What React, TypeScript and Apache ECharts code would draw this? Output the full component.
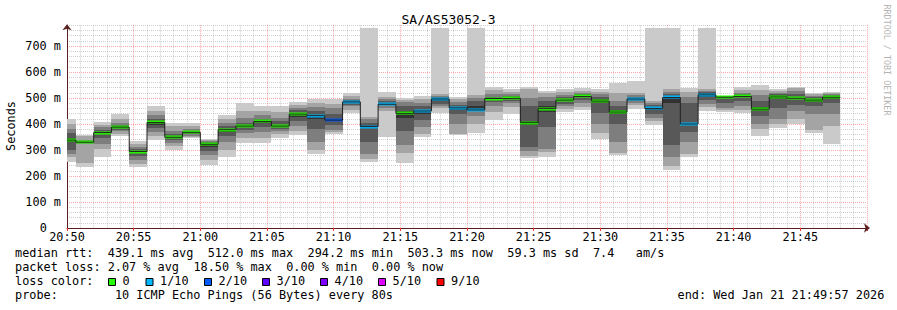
import React, { useEffect, useRef } from 'react';
import * as echarts from 'echarts';

const FONT = '"DejaVu Sans Mono", monospace';
const FS = 11.85;
const CW = 7.135;

const title = 'SA/AS53052-3';
const yTitle = 'Seconds';
const watermark = 'RRDTOOL / TOBI OETIKER';

// time axis: seconds after 20:50:00, probe step 80 s, first step ends at +40 s
const START_MINUTE = 20 * 60 + 50;
const RANGE_SECONDS = 3600;
const STEP_SECONDS = 80;
const FIRST_STEP_END = 40;

// 10 sorted ping times (ms) per step
const pings: number[][] = [
  [252, 275, 285, 300, 330, 345, 365, 380, 400, 420],
  [236, 250, 325, 328, 329, 332, 334, 338, 352, 358],
  [272, 305, 325, 345, 360, 370, 378, 388, 398, 408],
  [352, 362, 372, 378, 384, 392, 398, 405, 418, 440],
  [233, 245, 262, 278, 290, 296, 302, 312, 325, 336],
  [340, 352, 370, 385, 398, 410, 420, 435, 450, 468],
  [300, 315, 328, 338, 345, 352, 362, 375, 392, 403],
  [345, 350, 355, 360, 364, 370, 375, 382, 392, 402],
  [243, 262, 280, 295, 310, 328, 332, 336, 339, 341],
  [274, 300, 330, 352, 368, 380, 392, 405, 420, 434],
  [328, 345, 365, 378, 388, 395, 405, 425, 450, 479],
  [328, 345, 370, 390, 405, 412, 420, 435, 450, 468],
  [345, 360, 372, 382, 388, 395, 410, 425, 445, 468],
  [358, 372, 392, 410, 428, 442, 452, 462, 475, 485],
  [285, 300, 330, 380, 420, 435, 450, 465, 480, 495],
  [362, 368, 378, 395, 410, 420, 440, 460, 478, 497],
  [442, 455, 468, 475, 480, 487, 492, 498, 508, 518],
  [252, 265, 285, 330, 385, 395, 405, 418, 428, 770],
  [351, 450, 462, 475, 478, 482, 490, 497, 505, 525],
  [251, 290, 320, 375, 425, 450, 470, 485, 492, 499],
  [351, 362, 390, 415, 440, 455, 470, 482, 495, 506],
  [444, 460, 470, 478, 488, 498, 502, 508, 515, 770],
  [357, 362, 400, 440, 455, 467, 475, 485, 495, 502],
  [367, 400, 430, 455, 458, 470, 490, 500, 510, 770],
  [415, 445, 470, 485, 492, 500, 505, 515, 530, 541],
  [438, 465, 480, 488, 495, 502, 508, 515, 525, 535],
  [268, 278, 295, 310, 398, 412, 470, 500, 535, 544],
  [274, 292, 305, 390, 445, 470, 490, 505, 518, 527],
  [447, 458, 468, 478, 487, 495, 502, 512, 525, 535],
  [454, 466, 480, 492, 502, 508, 514, 520, 528, 537],
  [342, 365, 400, 442, 480, 495, 505, 515, 525, 535],
  [281, 290, 330, 400, 440, 452, 470, 490, 520, 556],
  [458, 472, 482, 490, 494, 498, 503, 510, 520, 567],
  [396, 410, 425, 440, 455, 465, 475, 482, 490, 770],
  [223, 240, 275, 320, 480, 505, 515, 525, 535, 770],
  [274, 285, 330, 370, 395, 405, 480, 505, 525, 537],
  [451, 465, 478, 492, 505, 518, 522, 528, 535, 770],
  [448, 452, 462, 480, 499, 505, 506, 507, 508, 509],
  [444, 455, 470, 490, 503, 509, 515, 520, 530, 541],
  [354, 380, 400, 430, 450, 465, 490, 510, 530, 550],
  [386, 400, 420, 460, 495, 510, 515, 520, 527, 533],
  [400, 420, 450, 475, 495, 503, 515, 528, 537, 544],
  [364, 378, 440, 470, 485, 495, 502, 508, 515, 521],
  [323, 392, 440, 480, 495, 508, 512, 516, 520, 525],
];

const medians = [
  338, 330, 367, 388, 294, 406, 349, 368, 322, 378,
  392, 410, 392, 438, 432, 415, 485, 390, 476, 441,
  450, 496, 462, 454, 498, 499, 405, 459, 492, 506,
  488, 446, 496, 460, 502, 400, 512, 503, 506, 457,
  504, 499, 492, 503,
];

const lossTenths = [
  0, 0, 0, 0, 0, 0, 0, 0, 0, 0,
  0, 0, 0, 0, 1, 2, 1, 1, 1, 0,
  1, 1, 1, 1, 0, 0, 0, 0, 0, 0,
  0, 0, 1, 1, 1, 1, 1, 0, 0, 0,
  0, 0, 0, 0,
];

const lossLevels = [0, 1, 2, 3, 4, 5, 9];
const lossLabels = ['0', '1/10', '2/10', '3/10', '4/10', '5/10', '9/10'];
const lossColors = ['#26ff00', '#00b8ff', '#0059ff', '#5e00ff', '#7e00ff', '#dd00ff', '#ff0000'];
const smokeColors = ['#cacaca', '#a4a4a4', '#7e7e7e', '#585858', '#323232'];

const statsLine = 'median rtt:  439.1 ms avg  512.0 ms max  294.2 ms min  503.3 ms now  59.3 ms sd  7.4   am/s';
const lossLine = 'packet loss: 2.07 % avg  18.50 % max  0.00 % min  0.00 % now';
const lossColorLabel = 'loss color:';
const probeLine = 'probe:        10 ICMP Echo Pings (56 Bytes) every 80s';
const endLine = 'end: Wed Jan 21 21:49:57 2026';

const stepStart = (i: number) => (i === 0 ? 0 : FIRST_STEP_END + STEP_SECONDS * (i - 1));
const stepEnd = (i: number) => FIRST_STEP_END + STEP_SECONDS * i;

const fmtTime = (v: number) => {
  const t = START_MINUTE + Math.round(v / 60);
  const h = Math.floor(t / 60) % 24;
  const m = t % 60;
  return `${h}:${String(m).padStart(2, '0')}`;
};

const textEl = (x: number, y: number, text: string, extra: any = {}) => ({
  type: 'text',
  x,
  y,
  silent: true,
  ...extra,
  style: {
    text,
    fill: '#000',
    font: `${FS}px ${FONT}`,
    align: 'left',
    verticalAlign: 'middle',
    textAlign: 'left',
    textVerticalAlign: 'middle',
    ...(extra.style || {}),
  },
});

const monoLine = (line: string, x0: number, y: number) => {
  const out: any[] = [];
  const re = /\S+(?: \S+)*/g;
  let m: RegExpExecArray | null;
  while ((m = re.exec(line))) {
    out.push(textEl(x0 + m.index * CW, y, m[0]));
  }
  return out;
};

export default function App() {
  const ref = useRef<HTMLDivElement>(null);

  useEffect(() => {
    document.body.style.margin = '0';
    if (!ref.current) return;
    const chart = echarts.init(ref.current, undefined, { renderer: 'svg' });

    const AXIS = '#5a2020';
    const RED = 'rgba(255,60,60,0.45)';
    const GRAY = 'rgba(150,150,150,0.45)';
    const cycle = [RED, GRAY, GRAY, GRAY, GRAY];

    const smokeData = pings.map((p, i) => [stepStart(i), stepEnd(i), ...p]);
    const medianLine: number[][] = [[0, medians[0]], ...medians.map((m, i) => [stepEnd(i), m])];
    const lossData = medians.map((m, i) => [stepStart(i), stepEnd(i), m, lossTenths[i]]);

    const legendX0 = 15;
    const rows = [253, 267, 281, 295];
    const squareX = [108.5, 146, 204.5, 262.5, 320.5, 378.5, 437];

    const graphics: any[] = [
      textEl(448.5, 19, title, { style: { font: `13px ${FONT}`, align: 'center', textAlign: 'center' } }),
      textEl(11, 126, yTitle, { rotation: Math.PI / 2, style: { align: 'center', textAlign: 'center' } }),
      textEl(886.5, 60, watermark, {
        rotation: -Math.PI / 2,
        style: { font: `8.4px ${FONT}`, fill: '#b4b4b4', align: 'center', textAlign: 'center' },
      }),
      ...monoLine(statsLine, legendX0, rows[0]),
      ...monoLine(lossLine, legendX0, rows[1]),
      ...monoLine(lossColorLabel, legendX0, rows[2]),
      ...monoLine(probeLine, legendX0, rows[3]),
      ...monoLine(endLine, 677.5, rows[3]),
    ];
    lossLabels.forEach((lab, k) => {
      graphics.push({
        type: 'rect',
        silent: true,
        shape: { x: squareX[k], y: 278.5, width: 7, height: 7 },
        style: { fill: lossColors[k], stroke: '#000', lineWidth: 1 },
      });
      graphics.push(textEl(squareX[k] + 14, rows[2], lab));
    });

    chart.setOption({
      animation: false,
      backgroundColor: '#ffffff',
      grid: { left: 67, right: 30, top: 25.2, bottom: 82, containLabel: false },
      xAxis: [
        {
          type: 'value',
          min: 0,
          max: RANGE_SECONDS,
          interval: 60,
          axisLine: {
            show: true,
            onZero: false,
            lineStyle: { color: AXIS, width: 1 },
            symbol: ['none', 'arrow'],
            symbolSize: [7, 6],
            symbolOffset: [0, 3],
          },
          axisTick: { show: false },
          axisLabel: { show: false },
          splitLine: { show: true, lineStyle: { color: cycle, type: [1, 1], width: 1 } },
        },
        {
          type: 'value',
          min: 0,
          max: RANGE_SECONDS,
          interval: 300,
          position: 'bottom',
          axisLine: { show: false, onZero: false },
          axisTick: { show: true, length: 3, lineStyle: { color: '#ff3030' } },
          axisLabel: {
            margin: 3,
            color: '#000',
            fontFamily: FONT,
            fontSize: FS,
            formatter: (v: number) => (v < RANGE_SECONDS ? fmtTime(v) : ''),
          },
          splitLine: { show: false },
        },
      ],
      yAxis: {
        type: 'value',
        min: 0,
        max: 780,
        interval: 20,
        axisLine: {
          show: true,
          onZero: false,
          lineStyle: { color: AXIS, width: 1 },
          symbol: ['none', 'arrow'],
          symbolSize: [7, 6],
          symbolOffset: [0, 1],
        },
        axisTick: { show: false },
        axisLabel: {
          margin: 6,
          color: '#000',
          fontFamily: FONT,
          fontSize: FS,
          formatter: (v: number) => (v % 100 !== 0 ? '' : v === 0 ? '{z|0}' : `${v} m`),
          rich: { z: { fontFamily: FONT, fontSize: FS, color: '#000', padding: [0, 14, 0, 0] } },
        },
        splitLine: { show: true, lineStyle: { color: cycle, type: [1, 1], width: 1 } },
      },
      graphic: graphics,
      series: [
        {
          type: 'custom',
          xAxisIndex: 0,
          clip: true,
          data: smokeData,
          encode: { x: [0, 1], y: [2, 3, 4, 5, 6, 7, 8, 9, 10, 11] },
          renderItem: (params: any, api: any) => {
            const t0 = api.value(0);
            const t1 = api.value(1);
            const children: any[] = [];
            for (let k = 0; k < 5; k++) {
              const lo = api.value(2 + k);
              const hi = api.value(11 - k);
              const a = api.coord([t0, hi]);
              const b = api.coord([t1, lo]);
              const x = Math.round(a[0]);
              const y = Math.round(a[1]);
              children.push({
                type: 'rect',
                shape: { x, y, width: Math.round(b[0]) - x, height: Math.round(b[1]) - y },
                style: { fill: smokeColors[k] },
              });
            }
            return { type: 'group', children };
          },
        },
        {
          type: 'line',
          xAxisIndex: 0,
          step: 'start',
          data: medianLine,
          symbol: 'none',
          lineStyle: { color: '#202020', width: 1 },
          silent: true,
        },
        {
          type: 'custom',
          xAxisIndex: 0,
          clip: true,
          data: lossData,
          encode: { x: [0, 1], y: 2 },
          renderItem: (params: any, api: any) => {
            const a = api.coord([api.value(0), api.value(2)]);
            const b = api.coord([api.value(1), api.value(2)]);
            const idx = lossLevels.indexOf(api.value(3));
            const x = Math.round(a[0]);
            return {
              type: 'rect',
              shape: { x, y: Math.round(a[1]) - 1.5, width: Math.round(b[0]) - x, height: 3 },
              style: { fill: lossColors[Math.max(0, idx)] },
            };
          },
        },
      ],
    });

    return () => chart.dispose();
  }, []);

  return <div ref={ref} style={{ width: 897, height: 310 }} />;
}
